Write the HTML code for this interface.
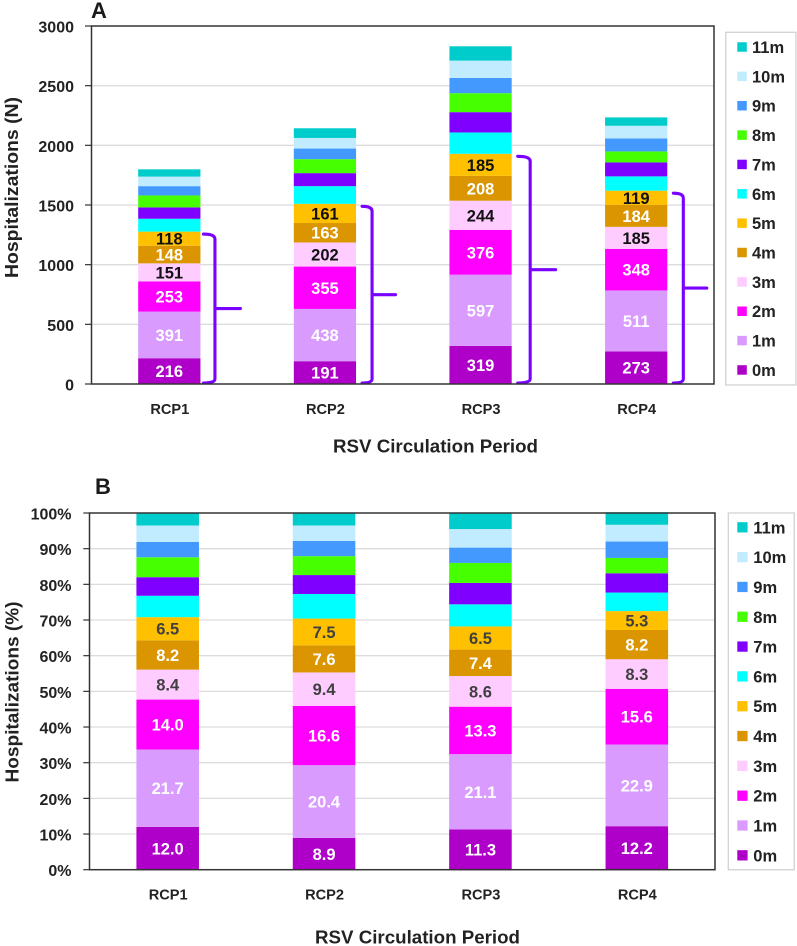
<!DOCTYPE html>
<html lang="en">
<head>
<meta charset="utf-8">
<title>RSV hospitalizations by circulation period</title>
<style>
  html, body { margin: 0; padding: 0; background: #ffffff; }
  svg { display: block; font-family: "Liberation Sans", sans-serif; font-weight: 700; }
</style>
</head>
<body>
<svg id="figure" xmlns="http://www.w3.org/2000/svg" width="797" height="946" viewBox="0 0 797 946">
  <rect x="0" y="0" width="797" height="946" fill="#ffffff"/>
  <g id="chartA"></g>
  <g id="chartB"></g>
  <text x="91" y="18" font-size="22" fill="#1a1a1a">A</text>
  <text x="95" y="494" font-size="22" fill="#1a1a1a">B</text>
  <text transform="rotate(-90 18 187.5)" x="18" y="187.5" text-anchor="middle" font-size="18.5" textLength="181" lengthAdjust="spacingAndGlyphs" fill="#222222">Hospitalizations (N)</text>
  <text transform="rotate(-90 18.5 692)" x="18.5" y="692" text-anchor="middle" font-size="18.5" textLength="181" lengthAdjust="spacingAndGlyphs" fill="#222222">Hospitalizations (%)</text>
  <text x="435.5" y="452.5" text-anchor="middle" font-size="18.5" textLength="205" lengthAdjust="spacingAndGlyphs" fill="#222222">RSV Circulation Period</text>
  <text x="417.5" y="943.5" text-anchor="middle" font-size="18.5" textLength="205" lengthAdjust="spacingAndGlyphs" fill="#222222">RSV Circulation Period</text>
</svg>
<script>
// ----- data -----
const categories = ['RCP1', 'RCP2', 'RCP3', 'RCP4'];
const seriesNames = ['0m', '1m', '2m', '3m', '4m', '5m', '6m', '7m', '8m', '9m', '10m', '11m'];
const seriesColors = ['#AE00C8', '#DA9BFF', '#FF00FF', '#FFCCFF', '#DA9500', '#FFC000', '#00FFFF', '#7F00FF', '#46FF00', '#4499FF', '#C1EBFF', '#00CCCC'];
const labelColorsA = ['#ffffff', '#ffffff', '#ffffff', '#111111', '#ffffff', '#111111'];
const labelColorsB = ['#ffffff', '#ffffff', '#ffffff', '#404040', '#ffffff', '#404040'];

const count0m = [216, 191, 319, 273];
const count1m = [391, 438, 597, 511];
const count2m = [253, 355, 376, 348];
const count3m = [151, 202, 244, 185];
const count4m = [148, 163, 208, 184];
const count5m = [118, 161, 185, 119];
const count6m = [108, 148, 179, 120];
const count7m = [95, 109, 170, 117];
const count8m = [100, 117, 159, 92];
const count9m = [78, 89, 128, 109];
const count10m = [80, 89, 145, 106];
const count11m = [61, 81, 120, 70];
const countSeries = [count0m, count1m, count2m, count3m, count4m, count5m, count6m, count7m, count8m, count9m, count10m, count11m];

const pct0m = [12.0, 8.9, 11.3, 12.2];
const pct1m = [21.7, 20.4, 21.1, 22.9];
const pct2m = [14.0, 16.6, 13.3, 15.6];
const pct3m = [8.4, 9.4, 8.6, 8.3];
const pct4m = [8.2, 7.6, 7.4, 8.2];
const pct5m = [6.5, 7.5, 6.5, 5.3];
const pct6m = [6.0, 6.9, 6.2, 5.2];
const pct7m = [5.2, 5.3, 6.0, 5.4];
const pct8m = [5.6, 5.3, 5.6, 4.3];
const pct9m = [4.3, 4.3, 4.3, 4.6];
const pct10m = [4.6, 4.3, 5.2, 4.7];
const pct11m = [3.5, 3.5, 4.5, 3.5];
const pctSeries = [pct0m, pct1m, pct2m, pct3m, pct4m, pct5m, pct6m, pct7m, pct8m, pct9m, pct10m, pct11m];

const countTicks = [0, 500, 1000, 1500, 2000, 2500, 3000];
const pctTicks = [0, 10, 20, 30, 40, 50, 60, 70, 80, 90, 100];
const labelledSeriesCount = 6;

// ----- drawing -----
const SVG_NS = 'http://www.w3.org/2000/svg';

function make(tag, parent, props) {
  const el = document.createElementNS(SVG_NS, tag);
  for (const key in props) {
    el.setAttribute(key, props[key]);
  }
  parent.appendChild(el);
  return el;
}

function drawChart(cfg) {
  const root = document.getElementById(cfg.rootId);
  const yScale = function (v) { return cfg.bottom - (v - cfg.yMin) * (cfg.bottom - cfg.top) / (cfg.yMax - cfg.yMin); };
  const band = (cfg.right - cfg.left) / cfg.categories.length;
  const xCenter = function (i) { return cfg.left + band * (i + 0.5); };
  const barWidth = band * 0.4;

  // gridlines, ticks and tick labels
  cfg.ticks.forEach(function (t) {
    const y = yScale(t);
    if (t !== cfg.yMin && t !== cfg.yMax) {
      const grid = make('line', root, { x1: cfg.left, x2: cfg.right, y1: y, y2: y, stroke: '#dcdcdc', 'stroke-width': 1.3 });
      
      
    }
    const tick = make('line', root, { x1: cfg.tickStart, x2: cfg.left, y1: y, y2: y, stroke: '#333333', 'stroke-width': 1.2 });
    
    
    const label = make('text', root, { x: cfg.tickLabelX, y: y + 6.5, 'text-anchor': 'end', 'font-size': 16, fill: '#222222' });
    label.textContent = t + cfg.tickSuffix;
    
    
  });

  // stacked bars
  cfg.categories.forEach(function (cat, i) {
    let cumulative = 0;
    cfg.series.forEach(function (values, s) {
      const v = values[i];
      const y0 = yScale(cumulative);
      const y1 = yScale(cumulative + v);
      const bar = make('rect', root, { x: xCenter(i) - barWidth / 2, y: y1, width: barWidth, height: y0 - y1, fill: seriesColors[s] });
      
      
      if (s < labelledSeriesCount) {
        const valueLabel = make('text', root, { x: xCenter(i), y: (y0 + y1) / 2 + 6, 'text-anchor': 'middle', 'font-size': 16.5, fill: cfg.labelColors[s] });
        valueLabel.textContent = cfg.format(v);
        
        
      }
      cumulative += v;
    });
    const catLabel = make('text', root, { x: xCenter(i) + 0.5, y: cfg.catLabelY, 'text-anchor': 'middle', 'font-size': 14.6, fill: '#222222' });
    catLabel.textContent = cat;
    
    

    if (cfg.bracketOffsets) {
      let sum = 0;
      for (let s = 0; s < labelledSeriesCount; s++) {
        sum += cfg.series[s][i];
      }
      const yTop = yScale(sum) + 2.5;
      const yBottom = cfg.bottom - 1;
      const yMid = (yTop + yBottom) / 2;
      const barRight = xCenter(i) + barWidth / 2;
      const offsets = cfg.bracketOffsets(i);
      const xStart = barRight + offsets.start;
      const xSpine = barRight + offsets.spine;
      const xTip = barRight + offsets.tip;
      const d = 'M' + xStart + ' ' + yTop + ' Q' + xSpine + ' ' + yTop + ' ' + xSpine + ' ' + (yTop + 5) +
        ' L' + xSpine + ' ' + (yBottom - 4) + ' Q' + xSpine + ' ' + yBottom + ' ' + xStart + ' ' + yBottom +
        ' M' + xSpine + ' ' + yMid + ' L' + xTip + ' ' + yMid;
      const bracket = make('path', root, { d: d, fill: 'none', stroke: '#7A00FF', 'stroke-width': 3.1, 'stroke-linecap': 'round' });
      
      
    }
  });

  // plot frame
  const frame = make('rect', root, { x: cfg.left, y: cfg.top, width: cfg.right - cfg.left, height: cfg.bottom - cfg.top, fill: 'none', stroke: '#333333', 'stroke-width': 1.5 });
  
  

  // legend
  const legendBox = make('rect', root, { x: cfg.legend.x, y: cfg.legend.y, width: cfg.legend.w, height: cfg.legend.h, fill: '#ffffff', stroke: '#d2d2d2', 'stroke-width': 1.3 });
  
  
  const count = seriesNames.length;
  seriesNames.forEach(function (name, s) {
    const cy = cfg.legend.firstY + (count - 1 - s) * cfg.legend.step;
    const swatch = make('rect', root, { x: cfg.legend.swatchX, y: cy - cfg.legend.swatch / 2, width: cfg.legend.swatch, height: cfg.legend.swatch, fill: seriesColors[s] });
    
    
    const entry = make('text', root, { x: cfg.legend.textX, y: cy + 6, 'font-size': 16.5, fill: '#222222' });
    entry.textContent = name;
    
    
  });
}

drawChart({
  rootId: 'chartA', categories: categories, series: countSeries, ticks: countTicks,
  yMin: 0, yMax: 3000, left: 91.5, right: 714, top: 26, bottom: 384,
  tickStart: 85, tickLabelX: 74, tickSuffix: '', catLabelY: 414,
  labelColors: labelColorsA,
  bracketOffsets: function (i) {
    if (i === 0) { return { start: 3, spine: 14.5, tip: 40 }; }
    if (i === 2) { return { start: 6, spine: 18.5, tip: 44 }; }
    return { start: 6, spine: 16, tip: 39.5 };
  },
  format: function (v) { return String(v); },
  legend: { x: 725.7, y: 32.3, w: 70.3, h: 352.7, swatchX: 737.3, swatch: 9.5, textX: 752, firstY: 47, step: 29.36 }
});

drawChart({
  rootId: 'chartB', categories: categories, series: pctSeries, ticks: pctTicks,
  yMin: 0, yMax: 100, left: 89.5, right: 715, top: 513, bottom: 869.7,
  tickStart: 83.3, tickLabelX: 71.5, tickSuffix: '%', catLabelY: 899.7,
  labelColors: labelColorsB,
  format: function (v) { return v.toFixed(1); },
  legend: { x: 728.3, y: 513, w: 66, h: 356.7, swatchX: 737.3, swatch: 10.3, textX: 753.3, firstY: 527.3, step: 29.82 }
});
</script>
</body>
</html>
